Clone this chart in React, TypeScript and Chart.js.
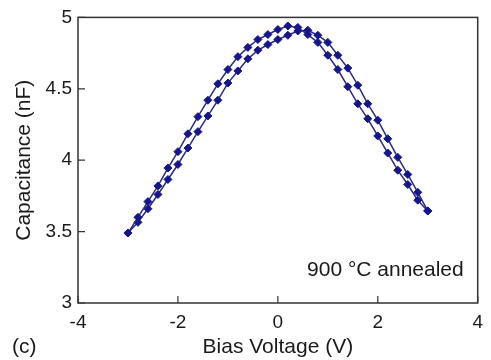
import { useEffect, useRef } from "react";
import { Chart, registerables } from "chart.js";

Chart.register(...registerables);

const biasVoltage = [
  -3.0, -2.8, -2.6, -2.4, -2.2, -2.0, -1.8, -1.6, -1.4, -1.2, -1.0, -0.8, -0.6, -0.4, -0.2,
  0.0, 0.2, 0.4, 0.6, 0.8, 1.0, 1.2, 1.4, 1.6, 1.8, 2.0, 2.2, 2.4, 2.6, 2.8, 3.0,
];
const capSweepA = [
  3.49, 3.6, 3.71, 3.82, 3.945, 4.06, 4.185, 4.305, 4.42, 4.535, 4.635, 4.725, 4.79, 4.845, 4.88,
  4.915, 4.94, 4.93, 4.88, 4.825, 4.735, 4.635, 4.515, 4.395, 4.29, 4.17, 4.05, 3.93, 3.83, 3.72, 3.645,
];
const capSweepB = [
  3.49, 3.565, 3.66, 3.76, 3.865, 3.97, 4.085, 4.2, 4.31, 4.42, 4.54, 4.625, 4.71, 4.77, 4.81,
  4.845, 4.875, 4.905, 4.91, 4.875, 4.825, 4.735, 4.645, 4.525, 4.395, 4.28, 4.15, 4.02, 3.9, 3.775, 3.645,
];
const xTickValues = [-4, -2, 0, 2, 4];
const yTickValues = [3, 3.5, 4, 4.5, 5];
const xTitle = "Bias Voltage (V)";
const yTitle = "Capacitance (nF)";
const annotation = "900 °C annealed";
const panelLabel = "(c)";

const FONT = "'Liberation Sans', Arial, Helvetica, sans-serif";
const NAVY = "#15158c";
const AXIS = "#333333";
const TEXT = "#1a1a1a";

export default function App() {
  const ref = useRef<HTMLCanvasElement | null>(null);

  useEffect(() => {
    document.body.style.margin = "0";
    const canvas = ref.current;
    if (!canvas) return;

    const frame = {
      id: "frame",
      afterDraw(chart: any) {
        const { ctx, chartArea } = chart;
        const xs = chart.scales.x;
        const ys = chart.scales.y;
        ctx.save();
        ctx.strokeStyle = AXIS;
        ctx.lineWidth = 1.5;
        ctx.strokeRect(chartArea.left, chartArea.top, chartArea.right - chartArea.left, chartArea.bottom - chartArea.top);
        ctx.lineWidth = 1.2;
        ctx.beginPath();
        for (const v of xTickValues) {
          const px = xs.getPixelForValue(v);
          ctx.moveTo(px, chartArea.bottom);
          ctx.lineTo(px, chartArea.bottom - 7);
        }
        for (const v of yTickValues) {
          const py = ys.getPixelForValue(v);
          ctx.moveTo(chartArea.left, py);
          ctx.lineTo(chartArea.left + 7, py);
        }
        ctx.stroke();
        ctx.fillStyle = TEXT;
        ctx.font = `21px ${FONT}`;
        ctx.textBaseline = "middle";
        ctx.textAlign = "right";
        ctx.fillText(annotation, chartArea.right - 14, 270);
        ctx.textAlign = "left";
        ctx.fillText(panelLabel, 12, 347);
        ctx.restore();
      },
    };

    const mk = (vals: number[]) => biasVoltage.map((x, i) => ({ x, y: vals[i] }));
    const ds = (label: string, vals: number[]) => ({
      label,
      data: mk(vals),
      borderColor: "#2a2a8e",
      backgroundColor: NAVY,
      borderWidth: 1.5,
      pointStyle: "rectRot" as const,
      pointRadius: 4,
      pointBackgroundColor: NAVY,
      pointBorderColor: NAVY,
      pointBorderWidth: 1,
      tension: 0,
    });

    const chart = new Chart(canvas, {
      type: "line",
      data: { datasets: [ds("sweep A", capSweepA), ds("sweep B", capSweepB)] },
      options: {
        animation: false,
        responsive: false,
        layout: { padding: { left: 0, top: 13, right: 8, bottom: 0 } },
        plugins: { legend: { display: false }, tooltip: { enabled: false } },
        scales: {
          x: {
            type: "linear",
            min: -4,
            max: 4,
            afterFit: (s: any) => { s.height = 57; },
            afterBuildTicks: (s: any) => { s.ticks = xTickValues.map((v) => ({ value: v })); },
            grid: { display: false, drawTicks: false },
            border: { display: false },
            ticks: { padding: 8, color: TEXT, font: { family: FONT, size: 19 }, maxRotation: 0, callback: (v: any) => String(v) },
            title: { display: true, text: xTitle, color: TEXT, font: { family: FONT, size: 21, lineHeight: 1.2 }, padding: { top: 0, bottom: 0 } },
          },
          y: {
            type: "linear",
            min: 3,
            max: 5,
            afterFit: (s: any) => { s.width = 78; },
            afterBuildTicks: (s: any) => { s.ticks = yTickValues.map((v) => ({ value: v })); },
            grid: { display: false, drawTicks: false },
            border: { display: false },
            ticks: { padding: 6, color: TEXT, font: { family: FONT, size: 19 }, callback: (v: any) => String(v) },
            title: { display: true, text: yTitle, color: TEXT, font: { family: FONT, size: 21, lineHeight: 1.2 }, padding: { top: 12, bottom: 0 } },
          },
        },
      },
      plugins: [frame],
    });

    return () => chart.destroy();
  }, []);

  return (
    <div style={{ width: 491, height: 360, background: "#fff" }}>
      <canvas ref={ref} width={491} height={360} style={{ display: "block" }} />
    </div>
  );
}
